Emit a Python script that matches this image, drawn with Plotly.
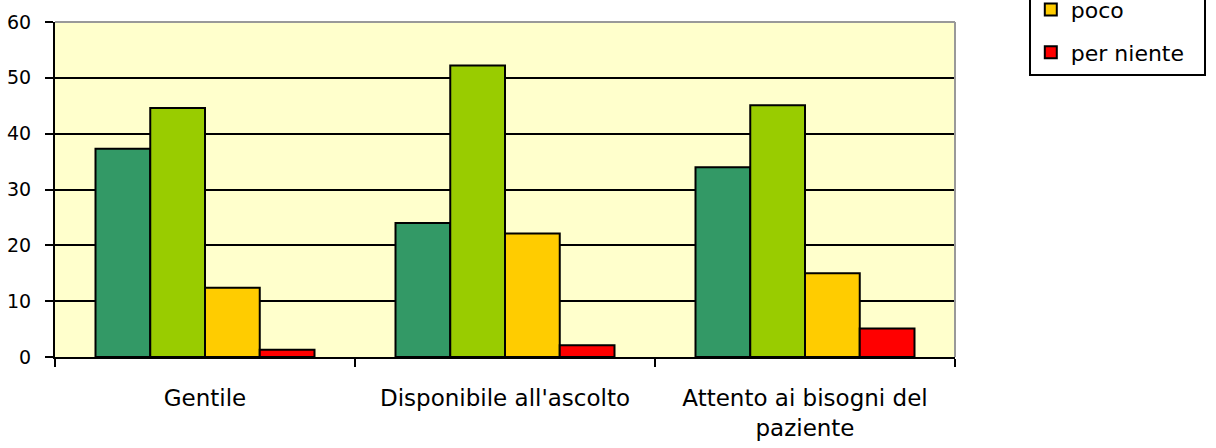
import plotly.graph_objects as go

categories = ["Gentile", "Disponibile all'ascolto", "Attento ai bisogni del<br>paziente"]
series_names = ["molto", "abbastanza", "poco", "per niente"]
molto = [37.3, 24.0, 34.0]
abbastanza = [44.6, 52.2, 45.1]
poco = [12.4, 22.1, 15.0]
per_niente = [1.3, 2.1, 5.1]
y_ticks = [0, 10, 20, 30, 40, 50, 60]

colors = ["#339966", "#99CC00", "#FFCC00", "#FF0000"]
values = [molto, abbastanza, poco, per_niente]

FONT = "DejaVu Sans"

fig = go.Figure()
for name, vals, col in zip(series_names, values, colors):
    fig.add_trace(go.Bar(
        x=categories, y=vals, name=name, legendgroup=name,
        marker=dict(color=col, line=dict(color="black", width=2)),
    ))

fig.update_layout(
    width=1216, height=448,
    margin=dict(l=55, r=261, t=22, b=91, autoexpand=False),
    paper_bgcolor="white",
    plot_bgcolor="#FFFFCC",
    barmode="group",
    bargap=0.27,
    bargroupgap=0,
    font=dict(family=FONT, size=19, color="black"),
    showlegend=True,
    legend=dict(
        x=1.082, xanchor="left",
        y=0.840, yanchor="bottom",
        bordercolor="black", borderwidth=2,
        bgcolor="white",
        font=dict(family=FONT, size=22, color="black"),
        traceorder="grouped",
        tracegroupgap=11,
    ),
)

fig.update_xaxes(
    type="category",
    showline=True, linecolor="black", linewidth=1.5,
    ticks="outside", tickson="boundaries", ticklen=8, tickwidth=1.5, tickcolor="black",
    ticklabelstandoff=20,
    tickfont=dict(family=FONT, size=23, color="black"),
    showgrid=False,
    mirror=False,
)
fig.update_yaxes(
    range=[0, 60], tickvals=y_ticks,
    showline=True, linecolor="black", linewidth=2,
    ticks="outside", ticklen=8, tickwidth=2, tickcolor="black",
    ticklabelstandoff=10,
    tickfont=dict(family=FONT, size=19, color="black"),
    showgrid=True, gridcolor="black", gridwidth=1.5,
    zeroline=False,
)

# gray frame along the top and right edges of the plotting area
fig.add_shape(type="line", xref="paper", yref="paper", x0=0, x1=1, y0=1, y1=1,
              line=dict(color="#999999", width=2))
fig.add_shape(type="line", xref="paper", yref="paper", x0=1, x1=1, y0=0, y1=1,
              line=dict(color="#999999", width=2))

fig.write_html("out.html")
